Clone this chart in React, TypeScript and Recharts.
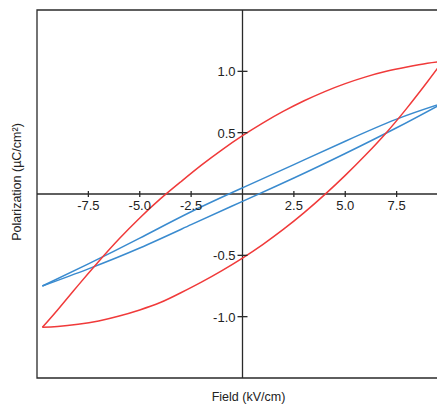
import { LineChart, Line, XAxis, YAxis, ReferenceLine, ReferenceArea } from "recharts";

// field in kV/cm, polarization in µC/cm²
const redUpper = [
  { e: 9.74, p: 1.08 }, { e: 9.0, p: 1.065 }, { e: 8.0, p: 1.035 }, { e: 7.0, p: 1.0 },
  { e: 6.0, p: 0.955 }, { e: 5.0, p: 0.9 }, { e: 4.0, p: 0.835 }, { e: 3.0, p: 0.76 },
  { e: 2.0, p: 0.675 }, { e: 1.0, p: 0.58 }, { e: 0, p: 0.475 }, { e: -1.0, p: 0.36 },
  { e: -2.0, p: 0.235 }, { e: -3.0, p: 0.1 }, { e: -4.0, p: -0.04 }, { e: -5.0, p: -0.195 },
  { e: -6.0, p: -0.365 }, { e: -7.0, p: -0.55 }, { e: -8.0, p: -0.745 }, { e: -9.0, p: -0.945 },
  { e: -9.74, p: -1.087 },
];

const redLower = [
  { e: -9.74, p: -1.087 }, { e: -9.0, p: -1.08 }, { e: -8.0, p: -1.062 }, { e: -7.0, p: -1.035 },
  { e: -6.0, p: -0.995 }, { e: -5.0, p: -0.945 }, { e: -4.0, p: -0.885 }, { e: -3.0, p: -0.805 },
  { e: -2.0, p: -0.718 }, { e: -1.0, p: -0.624 }, { e: 0, p: -0.522 }, { e: 1.0, p: -0.41 },
  { e: 2.0, p: -0.287 }, { e: 3.0, p: -0.152 }, { e: 4.0, p: -0.005 }, { e: 5.0, p: 0.152 },
  { e: 6.0, p: 0.32 }, { e: 7.0, p: 0.5 }, { e: 8.0, p: 0.7 }, { e: 9.0, p: 0.915 },
  { e: 9.74, p: 1.08 },
];

const blueUpper = [
  { e: 9.74, p: 0.74 }, { e: 7.5, p: 0.61 }, { e: 5.0, p: 0.43 }, { e: 2.5, p: 0.24 },
  { e: 0, p: 0.05 }, { e: -2.5, p: -0.145 }, { e: -5.0, p: -0.36 }, { e: -7.5, p: -0.57 },
  { e: -9.74, p: -0.75 },
];

const blueLower = [
  { e: -9.74, p: -0.75 }, { e: -7.5, p: -0.61 }, { e: -5.0, p: -0.44 }, { e: -2.5, p: -0.25 },
  { e: 0, p: -0.06 }, { e: 2.5, p: 0.13 }, { e: 5.0, p: 0.33 }, { e: 7.5, p: 0.54 },
  { e: 9.74, p: 0.74 },
];

const xTicks = [-7.5, -5, -2.5, 2.5, 5, 7.5];
const yTicks = [-1, -0.5, 0.5, 1];

const PLOT_W = 411;
const PLOT_H = 368;
const AXIS = "#2a2a2a";
const TEXT = "#222";
const RED = "#f03a3a";
const BLUE = "#3a8bcf";
const FONT = "'Liberation Sans', Arial, sans-serif";

function XTick({ x, y, payload }: any) {
  // axes cross at the origin, so ticks sit half a plot above the bottom edge
  const y0 = y - PLOT_H / 2;
  return (
    <g>
      <line x1={x} x2={x} y1={y0 - 3} y2={y0 + 3} stroke={AXIS} strokeWidth={1.3} />
      <text x={x} y={y0 + 16} textAnchor="middle" fontSize={13} fill={TEXT} fontFamily={FONT}>
        {payload.value.toFixed(1)}
      </text>
    </g>
  );
}

function YTick({ x, y, payload }: any) {
  const x0 = x + PLOT_W / 2;
  return (
    <g>
      <line x1={x0 - 5} x2={x0 + 5} y1={y} y2={y} stroke={AXIS} strokeWidth={1.3} />
      <text x={x0 - 7} y={y + 5} textAnchor="end" fontSize={13} fill={TEXT} fontFamily={FONT}>
        {payload.value.toFixed(1)}
      </text>
    </g>
  );
}

function XTitle({ viewBox }: any) {
  return (
    <text x={viewBox.x + viewBox.width / 2 + 6} y={viewBox.y + 23} textAnchor="middle" fontSize={12.5} fill={TEXT} fontFamily={FONT}>
      Field (kV/cm)
    </text>
  );
}

function YTitle({ viewBox }: any) {
  const cx = viewBox.x + 13;
  const cy = viewBox.y + viewBox.height / 2 - 12;
  return (
    <text transform={`translate(${cx},${cy}) rotate(-90)`} textAnchor="middle" fontSize={12.5} fill={TEXT} fontFamily={FONT}>
      Polarization (µC/cm²)
    </text>
  );
}

export default function App() {
  return (
    <div style={{ position: "fixed", left: 0, top: 0, width: 437, height: 404, overflow: "hidden", background: "#fff" }}>
      <LineChart width={460} height={404} margin={{ top: 10, right: 12, left: 8, bottom: 0 }}>
        <XAxis
          type="number"
          dataKey="e"
          domain={[-10, 10]}
          ticks={xTicks}
          interval={0}
          allowDataOverflow
          axisLine={false}
          tickLine={false}
          tickSize={0}
          tickMargin={0}
          height={26}
          tick={<XTick />}
          label={<XTitle />}
        />
        <YAxis
          type="number"
          dataKey="p"
          domain={[-1.5, 1.5]}
          ticks={yTicks}
          interval={0}
          allowDataOverflow
          axisLine={false}
          tickLine={false}
          tickSize={0}
          tickMargin={0}
          width={29}
          tick={<YTick />}
          label={<YTitle />}
        />
        <ReferenceArea x1={-10} x2={10} y1={-1.5} y2={1.5} fill="none" stroke={AXIS} strokeWidth={1.3} fillOpacity={0} />
        <ReferenceLine x={0} stroke={AXIS} strokeWidth={1.3} />
        <ReferenceLine y={0} stroke={AXIS} strokeWidth={1.3} />
        <Line data={blueUpper} dataKey="p" type="natural" stroke={BLUE} strokeWidth={1.5} dot={false} isAnimationActive={false} />
        <Line data={blueLower} dataKey="p" type="natural" stroke={BLUE} strokeWidth={1.5} dot={false} isAnimationActive={false} />
        <Line data={redUpper} dataKey="p" type="natural" stroke={RED} strokeWidth={1.5} dot={false} isAnimationActive={false} />
        <Line data={redLower} dataKey="p" type="natural" stroke={RED} strokeWidth={1.5} dot={false} isAnimationActive={false} />
      </LineChart>
    </div>
  );
}
